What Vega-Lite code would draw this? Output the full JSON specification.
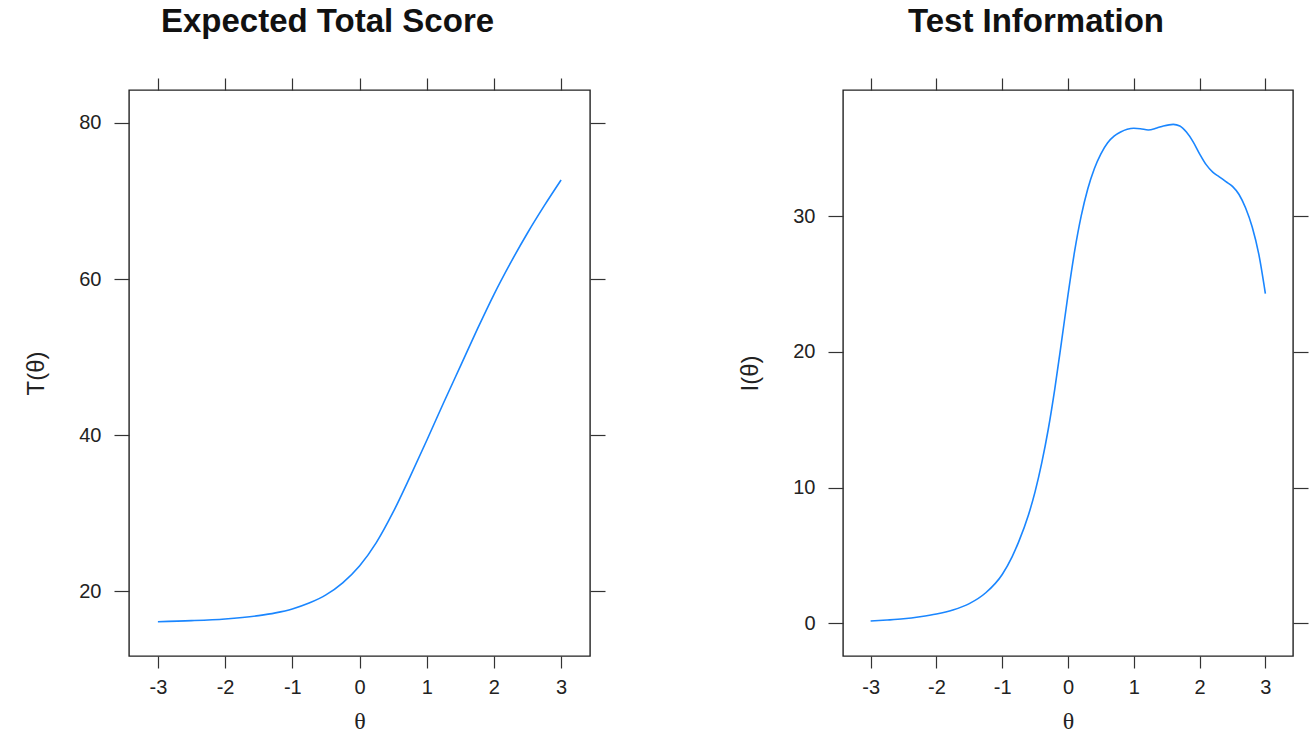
{
  "$schema": "https://vega.github.io/schema/vega-lite/v6.json",
  "padding": {"left": 24, "top": 5, "right": 5, "bottom": 0},
  "background": "white",
  "config": {
    "font": "Liberation Sans",
    "view": {"stroke": "#222", "strokeWidth": 1.4},
    "axis": {
      "domain": false,
      "grid": false,
      "tickColor": "#333",
      "tickWidth": 1.2,
      "labelColor": "#222",
      "labelFont": "Liberation Sans",
      "labelFontSize": 20,
      "titleColor": "#222",
      "titleFontWeight": "normal",
      "titleFontSize": 24
    },
    "axisX": {"tickSize": 12, "labelPadding": 9, "titlePadding": 12, "labelFlush": false},
    "axisY": {"tickSize": 15, "labelPadding": 13, "titlePadding": 30, "labelFlush": false},
    "title": {"fontSize": 33, "fontWeight": "bold", "color": "#111", "font": "Liberation Sans", "frame": "group", "dx": -32, "offset": 38}
  },
  "datasets": {
    "tscore": [
      {"theta": -3.0, "T": 16.07},
      {"theta": -2.5, "T": 16.2},
      {"theta": -2.0, "T": 16.42},
      {"theta": -1.5, "T": 16.85},
      {"theta": -1.25, "T": 17.2},
      {"theta": -1.0, "T": 17.7},
      {"theta": -0.75, "T": 18.45},
      {"theta": -0.5, "T": 19.5},
      {"theta": -0.25, "T": 21.05},
      {"theta": 0.0, "T": 23.2},
      {"theta": 0.25, "T": 26.2},
      {"theta": 0.5, "T": 30.1},
      {"theta": 0.75, "T": 34.6},
      {"theta": 1.0, "T": 39.3},
      {"theta": 1.25, "T": 44.1},
      {"theta": 1.5, "T": 48.8},
      {"theta": 1.75, "T": 53.5},
      {"theta": 2.0, "T": 58.0},
      {"theta": 2.25, "T": 62.1},
      {"theta": 2.5, "T": 65.9},
      {"theta": 2.75, "T": 69.4},
      {"theta": 3.0, "T": 72.7}
    ],
    "info": [
      {"theta": -3.0, "I": 0.17},
      {"theta": -2.75, "I": 0.24},
      {"theta": -2.5, "I": 0.33},
      {"theta": -2.25, "I": 0.48},
      {"theta": -2.0, "I": 0.68},
      {"theta": -1.75, "I": 0.98},
      {"theta": -1.5, "I": 1.45},
      {"theta": -1.25, "I": 2.25},
      {"theta": -1.0, "I": 3.6},
      {"theta": -0.85, "I": 4.9},
      {"theta": -0.75, "I": 6.0},
      {"theta": -0.6, "I": 8.0},
      {"theta": -0.5, "I": 9.7},
      {"theta": -0.4, "I": 11.8},
      {"theta": -0.3, "I": 14.3},
      {"theta": -0.2, "I": 17.3},
      {"theta": -0.1, "I": 20.7},
      {"theta": 0.0, "I": 24.2},
      {"theta": 0.1, "I": 27.4},
      {"theta": 0.2, "I": 30.0},
      {"theta": 0.3, "I": 32.0},
      {"theta": 0.4, "I": 33.5},
      {"theta": 0.5, "I": 34.6},
      {"theta": 0.6, "I": 35.4},
      {"theta": 0.7, "I": 35.9},
      {"theta": 0.8, "I": 36.2},
      {"theta": 0.9, "I": 36.4},
      {"theta": 1.0, "I": 36.48},
      {"theta": 1.1, "I": 36.45},
      {"theta": 1.22, "I": 36.35},
      {"theta": 1.35, "I": 36.5},
      {"theta": 1.45, "I": 36.65},
      {"theta": 1.6, "I": 36.77},
      {"theta": 1.7, "I": 36.65},
      {"theta": 1.8, "I": 36.2},
      {"theta": 1.9, "I": 35.5},
      {"theta": 2.0, "I": 34.6},
      {"theta": 2.1, "I": 33.8},
      {"theta": 2.2, "I": 33.25},
      {"theta": 2.3, "I": 32.9},
      {"theta": 2.4, "I": 32.55},
      {"theta": 2.5, "I": 32.2},
      {"theta": 2.6, "I": 31.6},
      {"theta": 2.7, "I": 30.6},
      {"theta": 2.8, "I": 29.2},
      {"theta": 2.9, "I": 27.2},
      {"theta": 3.0, "I": 24.3}
    ]
  },
  "hconcat": [
    {
      "title": {"text": "Expected Total Score"},
      "width": 461,
      "height": 566,
      "data": {"name": "tscore"},
      "layer": [
        {
          "mark": {"type": "line", "color": "#1a86ff", "strokeWidth": 1.6, "interpolate": "monotone"},
          "encoding": {
            "x": {"field": "theta", "type": "quantitative", "scale": {"domain": [-3.43, 3.43], "nice": false, "zero": false},
                  "axis": {"orient": "bottom", "values": [-3, -2, -1, 0, 1, 2, 3], "labelExpr": "'' + datum.value", "title": "θ", "titleFont": "Liberation Serif"}},
            "y": {"field": "T", "type": "quantitative", "scale": {"domain": [11.67, 84.23], "nice": false, "zero": false},
                  "axis": {"orient": "left", "values": [20, 40, 60, 80], "title": "T(θ)"}}
          }
        },
        {
          "mark": {"type": "line", "opacity": 0},
          "encoding": {
            "x": {"field": "theta", "type": "quantitative", "axis": {"orient": "top", "values": [-3, -2, -1, 0, 1, 2, 3], "labels": false, "title": null}},
            "y": {"field": "T", "type": "quantitative", "axis": {"orient": "right", "values": [20, 40, 60, 80], "labels": false, "title": null}}
          }
        }
      ],
      "resolve": {"axis": {"x": "independent", "y": "independent"}}
    },
    {
      "title": {"text": "Test Information"},
      "width": 450,
      "height": 566,
      "data": {"name": "info"},
      "layer": [
        {
          "mark": {"type": "line", "color": "#1a86ff", "strokeWidth": 1.6, "interpolate": "monotone"},
          "encoding": {
            "x": {"field": "theta", "type": "quantitative", "scale": {"domain": [-3.42, 3.42], "nice": false, "zero": false},
                  "axis": {"orient": "bottom", "values": [-3, -2, -1, 0, 1, 2, 3], "labelExpr": "'' + datum.value", "title": "θ", "titleFont": "Liberation Serif"}},
            "y": {"field": "I", "type": "quantitative", "scale": {"domain": [-2.41, 39.3], "nice": false, "zero": false},
                  "axis": {"orient": "left", "values": [0, 10, 20, 30], "title": "I(θ)"}}
          }
        },
        {
          "mark": {"type": "line", "opacity": 0},
          "encoding": {
            "x": {"field": "theta", "type": "quantitative", "axis": {"orient": "top", "values": [-3, -2, -1, 0, 1, 2, 3], "labels": false, "title": null}},
            "y": {"field": "I", "type": "quantitative", "axis": {"orient": "right", "values": [0, 10, 20, 30], "labels": false, "title": null}}
          }
        }
      ],
      "resolve": {"axis": {"x": "independent", "y": "independent"}}
    }
  ],
  "spacing": 131,
  "align": "none",
  "bounds": "full"
}
